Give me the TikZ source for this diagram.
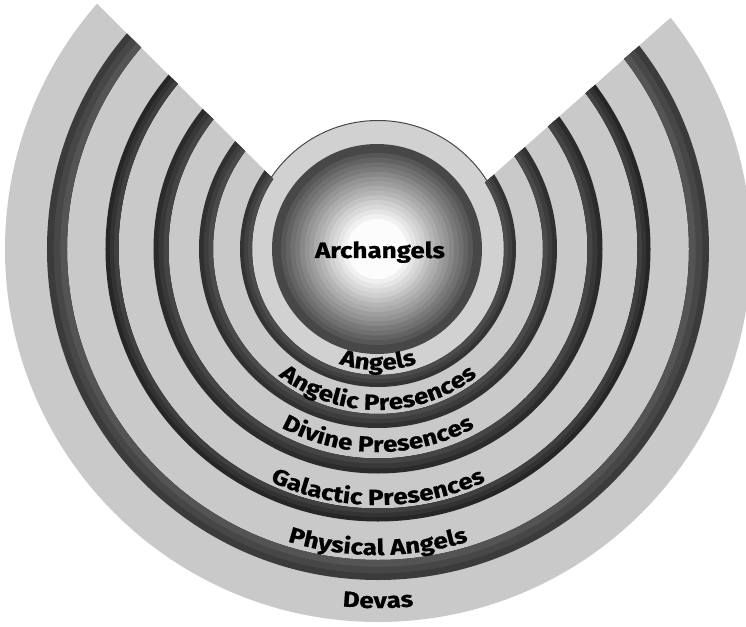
\documentclass[tikz,border=0pt]{standalone}
\usepackage{fontspec}
\setmainfont{Fira Sans}[FakeStretch=1.18, BoldFeatures={FakeBold=0.8}]
\usetikzlibrary{decorations.text}
\definecolor{bandfill}{HTML}{C9C9C9}
\definecolor{discfill}{HTML}{D1D1D1}
\definecolor{discline}{HTML}{484848}
\newcommand\bandfont{\fontsize{22}{26}\selectfont\bfseries}

\begin{document}
\begin{tikzpicture}[
  x=1pt, y=1pt,
  font=\bandfont,
  bandlabel/.style={decorate, decoration={text along path, text align=center, text={|\bandfont|#1}}},
  title/.style={font=\bandfont, text=black, anchor=base, inner sep=0pt}
]
\useasboundingbox (-378,-377) rectangle (368,249);

\coordinate (centre) at (0,0);
\coordinate (apex) at (-3,-31);
\coordinate (vleft) at (-336,300);
\coordinate (vright) at (370,300);
\coordinate (sph) at (-1,0);

\fill[discfill, draw=discline, line width=1pt] (centre) circle[radius=128.5];

\begin{scope}
\clip (apex) -- (vleft) -- (-420,300) -- (-420,-420) -- (420,-420) -- (420,300) -- (vright) -- cycle;
\fill[bandfill, even odd rule] (centre) circle[radius=373] circle[radius=128];
\foreach \r/\w/\d in {321/20/77, 266/13/85, 217/15/83, 172/14/81, 132/12/80}{
  \pgfmathtruncatemacro\dm{\d-5}
  \pgfmathtruncatemacro\dl{\d-10}
  \pgfmathsetmacro\wm{\w*2/3}
  \pgfmathsetmacro\wl{\w/3}
  \draw[line width=\w pt, draw=black!\d] (centre) circle[radius=\r];
  \draw[line width=\wm pt, draw=black!\dm] (centre) circle[radius=\r-\w/6];
  \draw[line width=\wl pt, draw=black!\dl] (centre) circle[radius=\r-\w/3];
}
\end{scope}

\fill[black!72] (sph) circle[radius=105];
\foreach \k in {0,...,14}{
  \pgfmathsetmacro\rad{96-4.7*\k}
  \pgfmathtruncatemacro\pct{66-4.6*\k}
  \fill[black!\pct] (sph) circle[radius=\rad];
}

\node[title] (archangels) at (2,-9) {Archangels};

\path[bandlabel={Angels}] (190:121) arc[start angle=190, end angle=350, radius=121];
\path[bandlabel={Angelic Presences}] (190:161) arc[start angle=190, end angle=350, radius=161];
\path[bandlabel={Divine Presences}] (190:203) arc[start angle=190, end angle=350, radius=203];
\path[bandlabel={Galactic Presences}] (190:256) arc[start angle=190, end angle=350, radius=256];
\path[bandlabel={Physical Angels}] (190:306) arc[start angle=190, end angle=350, radius=306];
\path[bandlabel={Devas}] (190:359) arc[start angle=190, end angle=350, radius=359];
\end{tikzpicture}
\end{document}
